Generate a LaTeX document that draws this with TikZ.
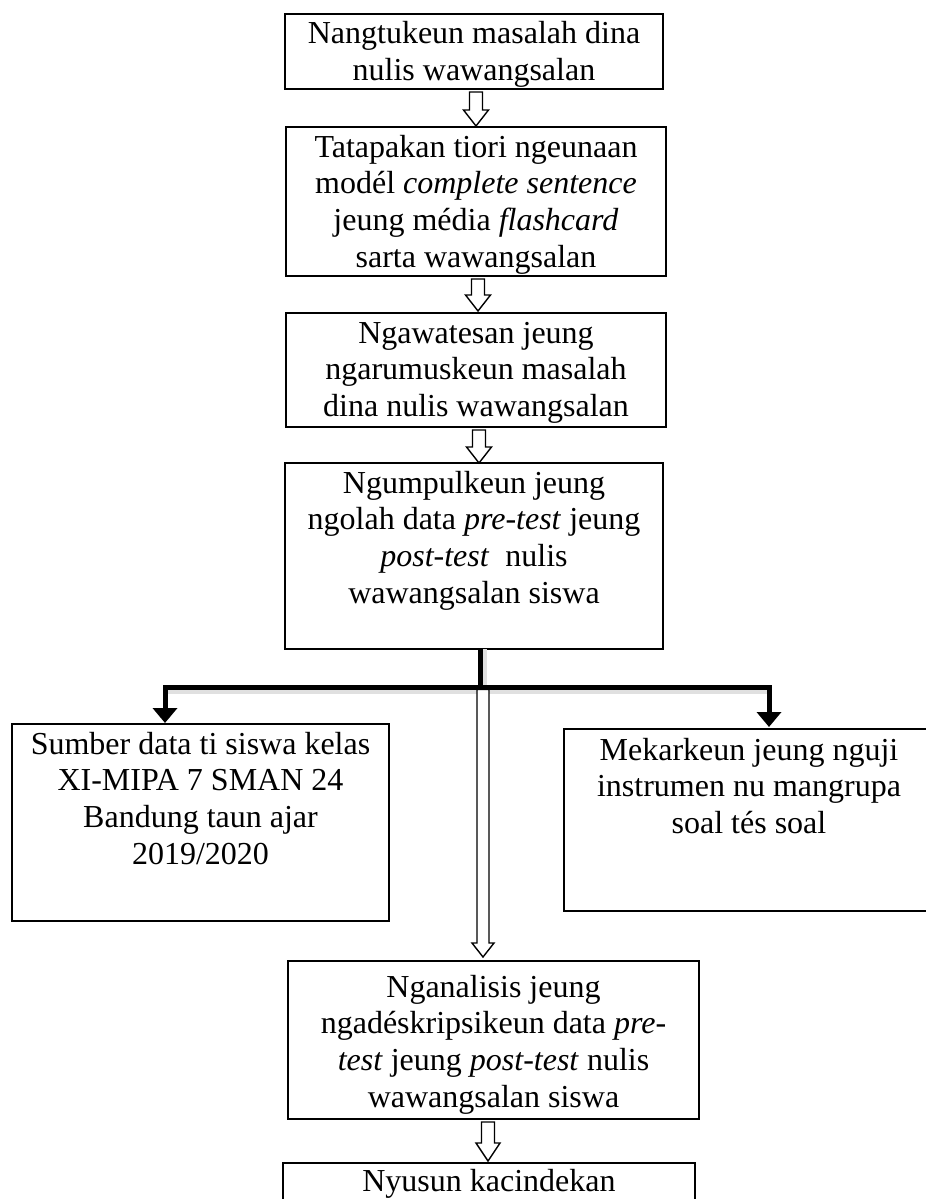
\documentclass[tikz,border=0pt]{standalone}
\usepackage{fontspec}
\setmainfont{Liberation Serif}
\usetikzlibrary{arrows.meta,calc}
\tikzset{
  box/.style={draw, line width=2.4pt, inner sep=0pt, outer sep=0pt},
  txt/.style={anchor=north, align=center, inner sep=0pt, font=\fontsize{32}{36.8}\selectfont},
  harrowline/.style={draw, fill=white, line width=1.4pt, line join=miter},
  branch/.style={line width=5pt, line join=miter},
  branchshadow/.style={line width=6pt, line join=miter, black!12},
  branchtip/.style={-{Triangle[width=24pt,length=15pt]}}
}
% hollow block arrow: #1 top of shaft, #2 tip point (its y is used), #3 half shaft, #4 half head, #5 head length
\newcommand\hollowarr[5]{%
  \draw[harrowline] let \p1=(#1), \p2=(#2) in
    (\x1-#3,\y1) -- (\x1-#3,\y2+#5) -- (\x1-#4,\y2+#5) -- (\x1,\y2)
    -- (\x1+#4,\y2+#5) -- (\x1+#3,\y2+#5) -- (\x1+#3,\y1) -- cycle;}
\begin{document}
\begin{tikzpicture}[x=1pt,y=-1pt]
\useasboundingbox (0,0) rectangle (926,1199);
\clip (0,0) rectangle (926,1199);
\fill[white] (0,0) rectangle (926,1199);

% boxes
\node[box, minimum width=378pt, minimum height=75pt]  (b1) at (474,51.5) {};
\node[box, minimum width=380pt, minimum height=149pt] (b2) at (476,201.5) {};
\node[box, minimum width=380pt, minimum height=114pt] (b3) at (476,370) {};
\node[box, minimum width=378pt, minimum height=186pt] (b4) at (474,556) {};
\node[box, minimum width=377pt, minimum height=197pt] (bl) at (200.5,822.5) {};
\node[box, minimum width=370pt, minimum height=182pt] (br) at (749,820) {};
\node[box, minimum width=411pt, minimum height=158pt] (b5) at (493.5,1040) {};
\node[box, minimum width=412pt, minimum height=77pt]  (b6) at (489,1201.5) {};

% texts
\node[txt] (t1) at ([yshift=-3.5pt]b1.north) {\strut Nangtukeun masalah dina\\nulis wawangsalan};
\node[txt] (t2) at ([yshift=-4.2pt]b2.north) {\strut Tatapakan tiori ngeunaan\\mod\'el \textit{complete sentence}\\jeung m\'edia \textit{flashcard}\\sarta wawangsalan};
\node[txt] (t3) at ([yshift=-4.2pt]b3.north) {\strut Ngawatesan jeung\\ngarumuskeun masalah\\dina nulis wawangsalan};
\node[txt] (t4) at ([yshift=-4.2pt]b4.north) {\strut Ngumpulkeun jeung\\ngolah data \textit{pre-test} jeung\\\textit{post-test}\ \ nulis\\wawangsalan siswa};
\node[txt] (tl) at ([yshift=-4.2pt]bl.north) {\strut Sumber data ti siswa kelas\\XI-MIPA 7 SMAN 24\\Bandung taun ajar\\2019/2020};
\node[txt] (tr) at ([yshift=-5.2pt]br.north) {\strut Mekarkeun jeung nguji\\instrumen nu mangrupa\\soal t\'es soal};
\node[txt] (t5) at ([yshift=-10.2pt]b5.north) {\strut Nganalisis jeung\\ngad\'eskripsikeun data \textit{pre-}\\\textit{test} jeung \textit{post-test} nulis\\wawangsalan siswa};
\node[txt] (t6) at ([yshift=-2.2pt]b6.north) {\strut Nyusun kacindekan};

% hollow arrows between the main boxes
\hollowarr{[xshift=2pt,yshift=-3pt]b1.south}{[yshift=1pt]b2.north}{6.5pt}{12.5pt}{16pt}
\hollowarr{[xshift=2pt,yshift=-3pt]b2.south}{[yshift=2pt]b3.north}{6.5pt}{12.5pt}{16pt}
\hollowarr{[xshift=3pt,yshift=-3pt]b3.south}{[yshift=0pt]b4.north}{6.5pt}{12.5pt}{16pt}
\hollowarr{[xshift=-5.5pt,yshift=-3pt]b5.south}{[yshift=2pt]b6.north}{6.5pt}{12pt}{18pt}

% branching
\coordinate (j) at (480.5,687.5);
\draw[branchshadow] ([xshift=3pt]b4.south -| j) -- ([xshift=3pt,yshift=-3pt]j);
\draw[branchshadow] ([xshift=-316pt,yshift=-3pt]j) -- ([xshift=290pt,yshift=-3pt]j);
\draw[branch] (b4.south -| j) -- (j);
\draw[branch, branchtip] (j) -| ([xshift=-35.5pt,yshift=1pt]bl.north);
\draw[branch, branchtip] (j) -| ([xshift=20pt,yshift=2pt]br.north);
\hollowarr{[xshift=2.5pt,yshift=-2pt]j}{[yshift=4pt]b5.north}{6pt}{11pt}{14pt}
\end{tikzpicture}
\end{document}
